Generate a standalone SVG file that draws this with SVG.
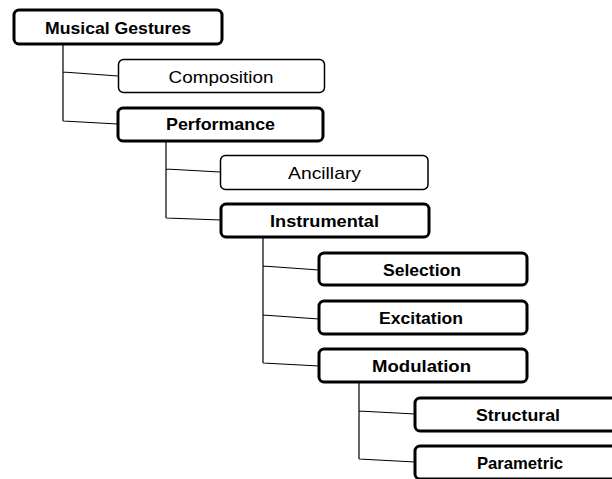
<svg xmlns="http://www.w3.org/2000/svg" width="612" height="479" viewBox="0 0 612 479">
<style>
.b{fill:#fff;stroke:#000;stroke-width:3}
.n{fill:#fff;stroke:#000;stroke-width:1.5}
.c{fill:none;stroke:#000;stroke-width:1.2}
text{font-family:"Liberation Sans",Arial,sans-serif;font-size:17px;fill:#000;text-anchor:middle}
.tb{font-weight:bold}
</style>
<rect width="612" height="479" fill="#fff"/>
<g id="connectors">
<path class="c" d="M63,44V121M63,72L118,76M63,121L118,124"/>
<path class="c" d="M166,141V218M166,169L220,172M166,218L221,220"/>
<path class="c" d="M263,237V363M263,266L319,270M263,315L319,319M263,363L319,366"/>
<path class="c" d="M359,382V459M359,411L415,414M359,459L415,462"/>
</g>
<g id="musical-gestures"><rect class="b" x="14" y="10" width="208" height="34" rx="5"/><text class="tb" x="118" y="33.5" textLength="146" lengthAdjust="spacingAndGlyphs">Musical Gestures</text></g>
<g id="composition"><rect class="n" x="118.5" y="59.5" width="206" height="33" rx="5"/><text x="221" y="82.5" textLength="105" lengthAdjust="spacingAndGlyphs">Composition</text></g>
<g id="performance"><rect class="b" x="118" y="108" width="205" height="33" rx="5"/><text class="tb" x="220.5" y="130" textLength="109" lengthAdjust="spacingAndGlyphs">Performance</text></g>
<g id="ancillary"><rect class="n" x="220.5" y="155.5" width="207.5" height="34" rx="5"/><text x="324.5" y="178.5" textLength="73" lengthAdjust="spacingAndGlyphs">Ancillary</text></g>
<g id="instrumental"><rect class="b" x="221" y="204" width="208" height="33" rx="5"/><text class="tb" x="324.5" y="226.5" textLength="109" lengthAdjust="spacingAndGlyphs">Instrumental</text></g>
<g id="selection"><rect class="b" x="319" y="253" width="208" height="32" rx="5"/><text class="tb" x="422" y="275.5" textLength="78" lengthAdjust="spacingAndGlyphs">Selection</text></g>
<g id="excitation"><rect class="b" x="319" y="301" width="208" height="33" rx="5"/><text class="tb" x="421" y="323.5" textLength="84" lengthAdjust="spacingAndGlyphs">Excitation</text></g>
<g id="modulation"><rect class="b" x="319" y="349" width="208" height="33" rx="5"/><text class="tb" x="421.5" y="371.5" textLength="99" lengthAdjust="spacingAndGlyphs">Modulation</text></g>
<g id="structural"><rect class="b" x="415" y="398" width="207" height="33" rx="5"/><text class="tb" x="518" y="420.5" textLength="84" lengthAdjust="spacingAndGlyphs">Structural</text></g>
<g id="parametric"><rect class="b" x="415" y="446" width="207" height="33" rx="5"/><text class="tb" x="520" y="468.5" textLength="86" lengthAdjust="spacingAndGlyphs">Parametric</text></g>
</svg>
